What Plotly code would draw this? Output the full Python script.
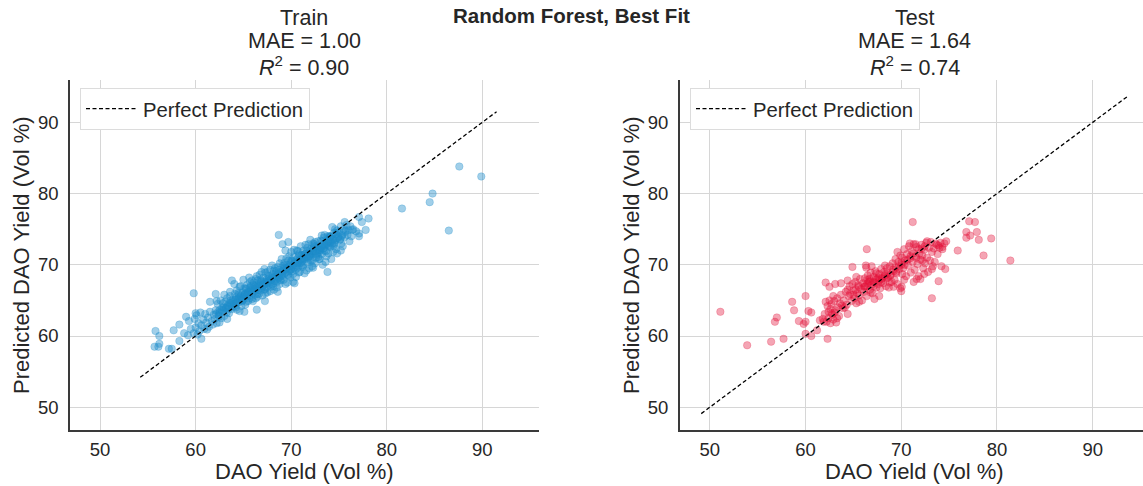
import plotly.graph_objects as go

# ---------------- data ----------------
train_actual = [
    87.6, 89.9, 84.8, 84.5, 81.6, 86.5, 78.1, 77.4, 77.1, 77.8, 77.1, 77.1, 76.4, 68.7, 69.7, 69.1, 73.8, 59.8, 66.4, 65.1,
    55.8, 56.2, 56.2, 55.7, 56.1, 57.2, 57.5, 57.7, 58.3, 59.0, 58.3, 58.8, 60.6, 60.0, 61.5, 62.1, 63.8,
    59.2, 59.5, 59.8, 60.0, 60.1, 60.3, 60.4, 60.6, 60.8, 60.9, 61.0, 61.1, 61.3, 61.4, 61.5, 61.7, 61.8, 61.9, 59.3, 59.9, 60.2, 61.2, 60.5,
    62.0, 62.1, 62.2, 62.3, 62.4, 62.5, 62.6, 62.7, 62.8, 62.9, 63.0, 63.1, 63.2, 63.3, 63.4, 63.5, 63.6, 63.7, 63.8, 63.9, 62.2, 62.5, 63.0, 63.3, 63.6,
    64.0, 64.1, 64.2, 64.3, 64.4, 64.5, 64.6, 64.7, 64.8, 64.9, 64.05, 64.3, 64.5, 64.7, 64.9, 64.2, 64.6,
    65.0, 65.1, 65.2, 65.3, 65.4, 65.5, 65.6, 65.7, 65.8, 65.9, 65.0, 65.2, 65.4, 65.6, 65.8, 65.1, 65.3, 65.5, 65.7, 65.9,
    66.0, 66.1, 66.2, 66.3, 66.4, 66.5, 66.6, 66.7, 66.8, 66.9, 66.0, 66.2, 66.4, 66.6, 66.8, 66.1, 66.3, 66.5, 66.7, 66.9,
    67.0, 67.1, 67.2, 67.3, 67.4, 67.5, 67.6, 67.7, 67.8, 67.9, 67.0, 67.2, 67.4, 67.6, 67.8, 67.1, 67.3, 67.5, 67.7, 67.9, 67.25,
    68.0, 68.1, 68.2, 68.3, 68.4, 68.5, 68.6, 68.7, 68.8, 68.9, 68.0, 68.2, 68.4, 68.6, 68.8, 68.1, 68.3, 68.5, 68.7, 68.9, 68.6,
    69.0, 69.1, 69.2, 69.3, 69.4, 69.5, 69.6, 69.7, 69.8, 69.9, 69.0, 69.2, 69.4, 69.6, 69.8, 69.1, 69.3, 69.5, 69.7, 69.9, 69.4,
    70.0, 70.1, 70.2, 70.3, 70.4, 70.5, 70.6, 70.7, 70.8, 70.9, 70.0, 70.2, 70.4, 70.6, 70.8, 70.1, 70.3, 70.5, 70.7, 70.9, 70.35,
    71.0, 71.1, 71.2, 71.3, 71.4, 71.5, 71.6, 71.7, 71.8, 71.9, 71.0, 71.2, 71.4, 71.6, 71.8, 71.1, 71.3, 71.5, 71.7, 71.9,
    72.0, 72.1, 72.2, 72.3, 72.4, 72.5, 72.6, 72.7, 72.8, 72.9, 72.0, 72.2, 72.4, 72.6, 72.8, 72.1, 72.3, 72.5, 72.7, 72.9,
    73.0, 73.1, 73.2, 73.3, 73.4, 73.5, 73.6, 73.7, 73.8, 73.9, 73.0, 73.2, 73.4, 73.6, 73.8, 73.1, 73.5, 73.7, 73.3, 73.9,
    74.0, 74.1, 74.2, 74.3, 74.4, 74.5, 74.6, 74.7, 74.8, 74.9, 74.0, 74.2, 74.4, 74.6, 74.8, 74.1, 74.5, 74.3, 74.7,
    75.0, 75.1, 75.2, 75.3, 75.4, 75.5, 75.6, 75.7, 75.8, 75.9, 75.2, 75.6, 76.0, 76.2, 76.3, 76.5, 76.1, 76.8,
]
train_pred = [
    83.8, 82.4, 80.0, 78.8, 77.9, 74.8, 76.5, 76.0, 76.7, 74.9, 74.4, 74.0, 74.9, 74.2, 73.2, 72.9, 69.0, 66.0, 63.7, 63.4,
    60.7, 60.0, 58.9, 58.5, 58.5, 58.2, 58.2, 60.8, 61.6, 62.7, 59.3, 60.4, 59.6, 63.2, 64.8, 65.9, 67.8,
    60.1, 61.0, 60.4, 61.2, 62.9, 61.8, 60.7, 61.5, 62.3, 61.0, 63.1, 61.9, 62.6, 61.3, 63.4, 62.1, 61.6, 63.0, 62.1, 62.4, 60.2, 60.9, 63.3,
    62.4, 63.6, 61.8, 64.5, 62.9, 63.3, 65.0, 62.5, 64.0, 63.6, 62.8, 64.8, 63.9, 65.3, 64.2, 63.2, 65.6, 64.6, 63.8, 65.1, 64.9, 61.9, 65.8, 62.4, 66.2,
    64.5, 65.9, 64.0, 66.4, 65.2, 64.7, 66.9, 65.5, 64.2, 66.1, 67.3, 63.7, 65.8, 67.0, 65.0, 65.4, 63.5,
    65.4, 66.7, 65.9, 64.8, 67.2, 66.2, 65.6, 67.6, 66.5, 65.2, 67.9, 64.4, 66.0, 68.2, 67.1, 65.7, 66.6, 64.9, 66.8, 67.8,
    66.3, 67.5, 65.8, 68.0, 66.8, 65.5, 67.3, 68.6, 66.4, 67.7, 64.9, 67.0, 68.4, 65.9, 67.9, 66.6, 65.3, 67.8, 66.7, 69.0,
    67.0, 68.2, 66.5, 68.9, 67.4, 66.1, 68.5, 67.2, 69.3, 67.9, 65.7, 69.4, 66.8, 67.7, 66.3, 67.6, 66.0, 69.0, 68.0, 66.9, 64.9,
    68.2, 67.0, 69.2, 67.7, 68.8, 66.8, 69.7, 68.1, 67.3, 69.0, 69.9, 66.5, 67.9, 68.5, 70.2, 68.7, 69.5, 67.6, 69.3, 67.8, 66.2,
    68.6, 69.8, 67.9, 70.3, 68.9, 69.5, 67.5, 70.6, 69.1, 68.2, 70.8, 69.2, 67.3, 70.0, 71.2, 68.4, 69.6, 70.9, 68.5, 70.1, 72.0,
    69.4, 70.5, 68.7, 71.1, 69.9, 68.3, 70.8, 69.6, 71.5, 70.2, 71.8, 67.6, 70.4, 72.0, 68.9, 69.1, 72.1, 70.6, 71.9, 69.0, 67.4,
    70.3, 71.4, 69.7, 72.0, 70.8, 71.6, 69.2, 72.4, 70.7, 71.8, 72.6, 70.9, 68.8, 71.1, 72.9, 69.9, 71.3, 72.8, 70.3, 69.5,
    71.2, 72.3, 70.6, 73.0, 71.7, 70.2, 72.6, 71.4, 73.3, 72.0, 73.5, 69.8, 72.9, 71.0, 72.1, 71.6, 69.6, 73.2, 72.4, 70.8,
    72.4, 73.4, 71.5, 72.8, 73.8, 72.0, 73.1, 71.2, 74.0, 72.7, 70.8, 74.1, 72.3, 70.4, 73.5, 72.1, 74.2, 72.9, 70.0, 71.6,
    73.3, 72.5, 74.1, 73.0, 71.8, 74.5, 73.4, 72.2, 74.8, 73.8, 74.0, 70.8, 73.6, 75.0, 71.6, 73.9, 72.9, 75.3, 74.3,
    74.6, 73.5, 75.4, 74.0, 72.6, 75.0, 73.9, 74.8, 75.6, 74.2, 72.0, 76.0, 74.9, 75.4, 74.0, 75.0, 73.3, 74.7,
]
# tightly packed core of the training cloud
train_core_actual = [
    62.15, 62.35, 62.55, 62.75, 62.95, 63.15, 63.35, 63.55, 63.75, 63.95, 64.15, 64.35, 64.55, 64.75, 64.95, 65.15, 65.35, 65.55, 65.75, 65.95,
    66.15, 66.35, 66.55, 66.75, 66.95, 67.15, 67.35, 67.55, 67.75, 67.95, 68.15, 68.35, 68.55, 68.75, 68.95, 69.15, 69.35, 69.55, 69.75, 69.95,
    70.15, 70.35, 70.55, 70.75, 70.95, 71.15, 71.35, 71.55, 71.75, 71.95, 72.15, 72.35, 72.55, 72.75, 72.95, 73.15, 73.35, 73.55, 73.75, 73.95,
    74.15, 74.35, 74.55, 74.75, 74.95, 75.15, 75.35,
    62.45, 62.85, 63.25, 63.65, 64.05, 64.45, 64.85, 65.25, 65.65, 66.05, 66.45, 66.85, 67.25, 67.65, 68.05, 68.45, 68.85, 69.25, 69.65, 70.05,
    70.45, 70.85, 71.25, 71.65, 72.05, 72.45, 72.85, 73.25, 73.65, 74.05, 74.45, 74.85, 75.25, 75.65,
    66.25, 66.65, 67.05, 67.45, 67.85, 68.25, 68.65, 69.05, 69.45, 69.85, 70.25, 70.65, 71.05, 71.45, 71.85, 72.25, 72.65, 73.05, 73.45, 73.85,
    65.45, 65.05, 64.65, 64.25, 63.85, 63.45,
]
train_core_pred = [
    63.1, 63.4, 63.7, 63.6, 64.0, 63.9, 64.3, 64.6, 64.4, 64.8, 65.1, 64.8, 65.3, 65.7, 65.4, 65.9, 65.6, 66.1, 66.3, 66.0,
    66.6, 66.9, 66.5, 67.1, 66.8, 67.3, 67.6, 67.4, 67.8, 68.1, 67.9, 68.4, 68.7, 68.3, 68.9, 69.2, 68.8, 69.4, 69.7, 69.3,
    69.8, 70.2, 69.9, 70.4, 70.7, 70.5, 70.9, 71.2, 71.0, 71.4, 71.7, 71.5, 71.9, 72.2, 71.8, 72.5, 72.3, 72.7, 73.0, 72.6,
    73.2, 73.5, 73.1, 73.7, 74.0, 73.6, 74.2,
    62.7, 64.6, 63.3, 65.0, 64.2, 66.0, 64.9, 66.7, 65.3, 67.2, 65.9, 67.6, 66.6, 68.4, 67.3, 69.1, 67.9, 69.9, 68.6, 70.6,
    69.3, 71.3, 69.9, 71.9, 70.6, 72.6, 71.1, 73.3, 71.9, 73.9, 72.6, 74.5, 73.0, 74.6,
    66.4, 67.0, 67.1, 67.9, 67.5, 68.2, 68.6, 68.5, 69.5, 69.9, 69.6, 70.3, 70.9, 71.5, 71.2, 72.0, 71.6, 72.1, 72.9, 73.3,
    65.8, 65.2, 65.0, 64.6, 64.1, 63.8,
]

test_actual = [
    51.1, 53.9, 56.4, 57.7, 56.8, 57.0, 58.6, 58.8, 59.3, 59.8, 60.0, 60.0, 60.0, 60.6, 60.3, 60.6, 61.2, 62.3, 61.5, 62.1,
    62.5, 63.1, 63.7, 64.4, 64.4, 64.9, 66.4, 66.3, 66.9, 67.7, 71.2, 73.2, 73.9, 74.6, 74.2, 75.9, 76.8, 76.8, 77.2, 77.1,
    77.7, 77.9, 78.1, 79.4, 78.6, 81.4, 74.7, 74.3, 72.0,
    61.8, 62.0, 62.1, 62.2, 62.3, 62.4, 62.5, 62.6, 62.7, 62.8, 62.9, 63.0, 63.1, 63.2, 63.3, 63.4, 63.5, 63.6, 63.7, 63.9, 62.4, 62.9, 63.3, 61.9, 62.6, 63.8,
    64.0, 64.2, 64.3, 64.5, 64.6, 64.8, 65.0, 65.1, 65.2, 65.3, 65.4, 65.5, 65.6, 65.7, 65.8, 65.9, 64.4, 64.9, 65.3, 65.6, 64.1, 65.0,
    66.0, 66.1, 66.2, 66.3, 66.4, 66.5, 66.6, 66.7, 66.8, 66.9, 67.0, 67.1, 67.2, 67.3, 67.4, 67.5, 67.6, 67.7, 67.8, 67.9, 66.2, 66.5, 66.8, 67.1, 67.4, 67.7, 66.35, 67.2, 67.9, 66.7,
    68.0, 68.1, 68.2, 68.3, 68.4, 68.5, 68.6, 68.7, 68.8, 68.9, 69.0, 69.1, 69.2, 69.3, 69.4, 69.5, 69.6, 69.7, 69.8, 69.9, 68.3, 68.8, 69.2, 69.6, 69.9, 68.5, 69.4,
    70.0, 70.1, 70.1, 70.2, 70.3, 70.4, 70.5, 70.6, 70.7, 70.8, 70.9, 71.0, 71.1, 71.2, 71.3, 71.4, 71.5, 71.6, 71.7, 71.8, 71.9, 70.0, 70.05, 70.3, 71.3, 71.6, 70.9, 71.5,
    72.0, 72.1, 72.2, 72.3, 72.4, 72.5, 72.6, 72.7, 72.8, 72.9, 73.0, 73.1, 73.2, 73.3, 73.4, 73.5, 73.6, 73.8, 73.9, 74.1, 74.3, 74.5, 72.4, 73.2, 72.7, 73.7, 74.0, 72.2,
    66.15, 66.45, 66.75, 67.05, 67.35, 67.65, 67.95, 68.25, 68.55, 68.85, 69.15, 69.45, 69.75, 70.05, 70.35, 70.65, 70.95, 71.25, 71.55, 71.85,
    72.15, 72.45, 65.25, 65.55, 64.65, 63.05, 62.75,
]
test_pred = [
    63.4, 58.7, 59.2, 59.6, 62.0, 62.6, 64.8, 63.6, 62.1, 61.7, 65.6, 62.0, 60.3, 60.0, 63.5, 63.3, 60.8, 59.6, 62.2, 67.5,
    66.9, 67.3, 67.4, 67.8, 63.1, 69.7, 72.2, 69.9, 69.8, 65.6, 76.0, 65.3, 67.7, 69.4, 69.8, 72.0, 74.6, 73.8, 74.1, 76.1,
    76.0, 74.6, 73.5, 73.7, 71.3, 70.6, 73.3, 72.5, 68.0,
    62.4, 63.1, 64.8, 62.0, 64.2, 63.4, 65.0, 61.8, 64.5, 63.0, 62.3, 64.9, 63.6, 61.9, 65.3, 64.0, 62.8, 64.6, 65.8, 63.9, 62.5, 65.6, 62.5, 62.0, 63.8, 64.3,
    65.0, 66.2, 64.4, 65.6, 67.0, 64.9, 66.4, 65.3, 67.6, 64.6, 66.0, 67.1, 65.7, 68.0, 66.6, 65.0, 66.5, 67.3, 68.3, 64.8, 64.0, 65.8,
    67.4, 66.2, 68.1, 67.0, 65.6, 68.5, 67.6, 66.5, 68.9, 67.2, 66.0, 68.3, 67.5, 69.1, 66.8, 68.0, 67.3, 68.7, 66.7, 69.4, 66.9, 67.9, 66.1, 67.0, 68.8, 67.8, 69.6, 65.2, 67.6, 68.0,
    68.1, 67.4, 69.0, 68.4, 67.0, 69.5, 68.2, 66.8, 69.8, 68.6, 67.6, 70.2, 69.1, 67.9, 70.8, 68.8, 67.3, 70.4, 69.4, 71.3, 69.9, 67.5, 66.9, 71.8, 66.7, 68.1, 69.7,
    70.0, 68.7, 71.0, 69.5, 72.2, 70.6, 68.4, 71.5, 69.9, 72.6, 70.9, 68.9, 71.9, 70.4, 72.9, 69.3, 71.2, 72.5, 70.1, 68.4, 71.6, 66.3, 66.9, 67.9, 67.6, 68.0, 73.0, 72.9,
    70.7, 72.8, 71.3, 69.5, 72.1, 70.2, 73.1, 71.0, 69.0, 72.4, 70.6, 73.2, 71.8, 69.8, 72.3, 70.4, 73.0, 71.5, 72.7, 73.1, 72.2, 73.0, 68.7, 69.4, 73.3, 72.8, 72.4, 70.6,
    67.0, 67.4, 67.7, 67.6, 68.0, 68.2, 68.0, 68.5, 68.8, 68.5, 69.3, 69.0, 69.8, 70.3, 70.0, 70.7, 71.2, 71.6, 71.0, 72.2,
    72.3, 72.6, 66.5, 66.9, 65.9, 63.3, 63.2,
]

# min / max of the perfect-prediction reference line in each panel
train_line = [54.2, 91.5]
test_line = [49.1, 93.7]

axis_ticks = [50, 60, 70, 80, 90]
panel_titles = ["Train", "Test"]
mae_values = ["1.00", "1.64"]
r2_values = ["0.90", "0.74"]
suptitle = "Random Forest, Best Fit"
x_label = "DAO Yield (Vol %)"
y_label = "Predicted DAO Yield (Vol %)"

assert len(train_actual) == len(train_pred)
assert len(train_core_actual) == len(train_core_pred)
assert len(test_actual) == len(test_pred)

# ---------------- styling ----------------
W, H = 1143, 486
FONT = "Liberation Sans, Arial, Helvetica, sans-serif"
TXT = "#262626"
TRAIN_C = "rgba(30,140,202,0.42)"
TEST_C = "rgba(226,18,58,0.38)"
GRID = "#d6d6d6"
SPINE = "#3a3a3a"

def px_x(p):
    return p / W

def px_y(p):
    return 1 - p / H

fig = go.Figure()

fig.add_trace(go.Scatter(
    x=train_actual + train_core_actual, y=train_pred + train_core_pred,
    mode="markers", xaxis="x", yaxis="y",
    marker=dict(size=7.5, color=TRAIN_C, line=dict(width=0.6, color=TRAIN_C)), showlegend=False))
fig.add_trace(go.Scatter(
    x=train_line, y=train_line, mode="lines", xaxis="x", yaxis="y",
    line=dict(color="black", width=1.3, dash="4px,2.5px"),
    name="Perfect Prediction", legend="legend"))

fig.add_trace(go.Scatter(
    x=test_actual, y=test_pred, mode="markers", xaxis="x2", yaxis="y2",
    marker=dict(size=7.5, color=TEST_C, line=dict(width=0.6, color=TEST_C)), showlegend=False))
fig.add_trace(go.Scatter(
    x=test_line, y=test_line, mode="lines", xaxis="x2", yaxis="y2",
    line=dict(color="black", width=1.3, dash="4px,2.5px"),
    name="Perfect Prediction", legend="legend2"))

common_axis = dict(
    tickvals=axis_ticks, showgrid=True, gridcolor=GRID, gridwidth=1.2,
    zeroline=False, showline=True, linecolor=SPINE, linewidth=1.5,
    ticks="outside", tickcolor="rgba(0,0,0,0)",
    tickfont=dict(family=FONT, size=18.5, color=TXT), automargin=False,
)
x_axis = dict(ticklen=2, **common_axis)
y_axis = dict(ticklen=6, **common_axis)

fig.update_layout(
    width=W, height=H,
    margin=dict(l=0, r=0, t=0, b=0),
    paper_bgcolor="white", plot_bgcolor="white",
    font=dict(family=FONT, color=TXT),
    xaxis=dict(domain=[px_x(70), px_x(538.6)], range=[46.85, 95.9], anchor="y", **x_axis),
    yaxis=dict(domain=[px_y(430), px_y(80)], range=[46.8, 95.95], anchor="x", **y_axis),
    xaxis2=dict(domain=[px_x(679.7), 1.0], range=[46.85, 95.26], anchor="y2", **x_axis),
    yaxis2=dict(domain=[px_y(430), px_y(80)], range=[46.8, 95.95], anchor="x2", **y_axis),
    legend=dict(x=px_x(80), y=px_y(88), xanchor="left", yanchor="top",
                bgcolor="white", bordercolor="#dcdcdc", borderwidth=1,
                font=dict(family=FONT, size=20.3, color=TXT), itemwidth=52),
    legend2=dict(x=px_x(690), y=px_y(88), xanchor="left", yanchor="top",
                 bgcolor="white", bordercolor="#dcdcdc", borderwidth=1,
                 font=dict(family=FONT, size=20.3, color=TXT), itemwidth=52),
)

ann = []
ann.append(dict(text="<b>%s</b>" % suptitle, x=0.5, y=px_y(16), xref="paper", yref="paper",
                showarrow=False, xanchor="center", yanchor="middle",
                font=dict(family=FONT, size=20.5, color=TXT)))
centers = [304, 915]
for i in range(2):
    cx = px_x(centers[i])
    ann.append(dict(text=panel_titles[i], x=cx, y=px_y(18), xref="paper", yref="paper",
                    showarrow=False, xanchor="center", yanchor="middle",
                    font=dict(family=FONT, size=21.5, color=TXT)))
    ann.append(dict(text="MAE = %s" % mae_values[i], x=cx, y=px_y(41), xref="paper", yref="paper",
                    showarrow=False, xanchor="center", yanchor="middle",
                    font=dict(family=FONT, size=21.5, color=TXT)))
    ann.append(dict(text="<i>R</i><sup>2</sup> = %s" % r2_values[i], x=cx, y=px_y(66), xref="paper", yref="paper",
                    showarrow=False, xanchor="center", yanchor="middle",
                    font=dict(family=FONT, size=21.5, color=TXT)))
    ann.append(dict(text=x_label, x=cx, y=px_y(471), xref="paper", yref="paper",
                    showarrow=False, xanchor="center", yanchor="middle",
                    font=dict(family=FONT, size=22, color=TXT)))
ylab_x = [21, 631]
for i in range(2):
    ann.append(dict(text=y_label, x=px_x(ylab_x[i]), y=px_y(255), xref="paper", yref="paper",
                    showarrow=False, xanchor="center", yanchor="middle", textangle=-90,
                    font=dict(family=FONT, size=22, color=TXT)))
fig.update_layout(annotations=ann)

fig.write_html("out.html")
